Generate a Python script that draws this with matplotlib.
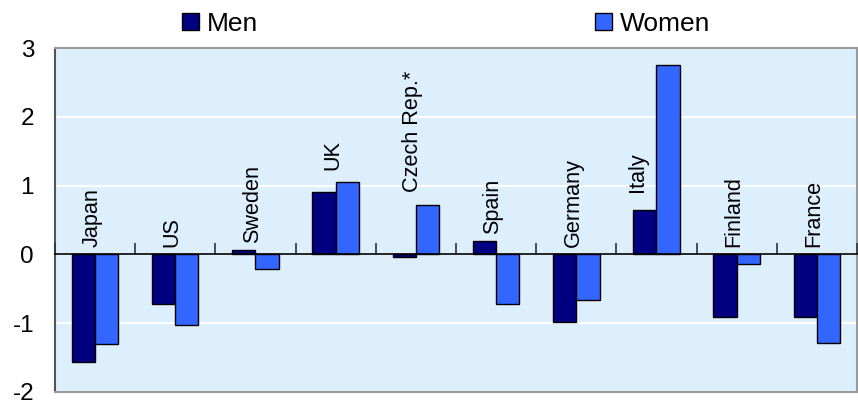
import numpy as np
import matplotlib
matplotlib.use("Agg")
import matplotlib.pyplot as plt
from matplotlib.patches import Patch

plt.rcParams['font.family'] = ['Liberation Sans', 'DejaVu Sans']

countries = ["Japan", "US", "Sweden", "UK", "Czech Rep.*", "Spain",
             "Germany", "Italy", "Finland", "France"]
men = [-1.56, -0.72, 0.06, 0.90, -0.04, 0.19, -0.99, 0.64, -0.91, -0.91]
women = [-1.30, -1.03, -0.22, 1.05, 0.72, -0.73, -0.67, 2.75, -0.14, -1.29]

MEN_COLOR = "#000080"
WOMEN_COLOR = "#3366FF"
BG = "#DDEFFD"

fig = plt.figure(figsize=(8.58, 4.01), dpi=100)
ax = fig.add_axes([0.064, 0.023, 0.9348, 0.857])
ax.set_facecolor(BG)

x = np.arange(len(countries))
w = 0.29
ax.bar(x - w / 2, men, width=w, color=MEN_COLOR, edgecolor="black",
       linewidth=1.0, zorder=3)
ax.bar(x + w / 2, women, width=w, color=WOMEN_COLOR, edgecolor="black",
       linewidth=1.0, zorder=3)

ax.set_xlim(-0.5, len(countries) - 0.5)
ax.set_ylim(-2, 3)
ax.set_yticks([-2, -1, 0, 1, 2, 3])
ax.set_yticklabels(["-2", "-1", "0", "1", "2", "3"])
ax.yaxis.grid(True, color="white", linewidth=1.5, zorder=1)
ax.set_axisbelow(True)
ax.tick_params(axis="y", length=0, pad=15, labelsize=17.5)
ax.set_xticks([])

for side in ["top", "right", "bottom"]:
    ax.spines[side].set_color("#9a9a9a")
    ax.spines[side].set_linewidth(1.5)
ax.spines["left"].set_color("#555555")
ax.spines["left"].set_linewidth(1.5)

# zero line with category separators
zero_axis = ax.secondary_xaxis(0.4)
zero_axis.set_xticks(np.arange(len(countries) + 1) - 0.5)
zero_axis.set_xticklabels([])
zero_axis.tick_params(direction="in", length=8, width=1.2, color="#333333")
zero_axis.spines["bottom"].set_color("black")
zero_axis.spines["bottom"].set_linewidth(1.2)
zero_axis.set_zorder(4)

# country names, set just above the bars of each group
for i, name in enumerate(countries):
    dx = -0.04
    top = max(0.0, men[i], women[i])
    if name == "Italy":
        dx = -0.24
        top = max(0.0, men[i])
    y = top + (0.18 if top > 0.3 else 0.1) + (0.08 if name == "Italy" else 0)
    ax.text(i + dx, y, name, rotation=90, ha="center", va="bottom",
            fontsize=15.6, zorder=5)

handles = [Patch(facecolor=MEN_COLOR, edgecolor="black", label="Men"),
           Patch(facecolor=WOMEN_COLOR, edgecolor="black", label="Women")]
fig.legend(handles=handles, loc="center", bbox_to_anchor=(0.52, 0.94),
           ncol=2, frameon=False, fontsize=19, handlelength=0.62,
           handleheight=0.62, handletextpad=0.3, columnspacing=12.8)

fig.savefig("out.png", dpi=100)
